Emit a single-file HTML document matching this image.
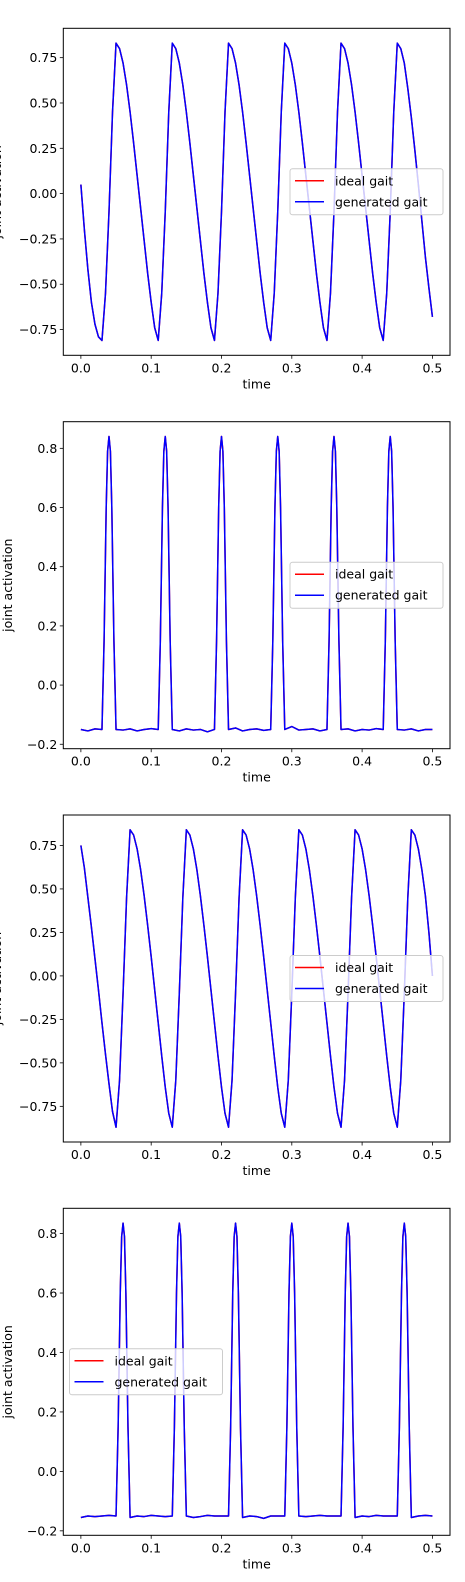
<!DOCTYPE html>
<html><head><meta charset="utf-8"><style>
html,body{margin:0;padding:0;background:#fff;}
svg{display:block;font-family:"DejaVu Sans","Liberation Sans",sans-serif;}
</style></head><body>
<svg id="fig" width="465" height="1582" viewBox="0 0 465 1582" xmlns="http://www.w3.org/2000/svg"></svg>
<script>
// ---------- data ----------
const t1 = [0,0.005,0.01,0.015,0.02,0.025,0.03,0.035,0.04,0.045,0.05,0.055,0.06,0.065,0.07,0.075,0.08,0.085,0.09,0.095,0.1,0.105,0.11,0.115,0.12,0.125,0.13,0.135,0.14,0.145,0.15,0.155,0.16,0.165,0.17,0.175,0.18,0.185,0.19,0.195,0.2,0.205,0.21,0.215,0.22,0.225,0.23,0.235,0.24,0.245,0.25,0.255,0.26,0.265,0.27,0.275,0.28,0.285,0.29,0.295,0.3,0.305,0.31,0.315,0.32,0.325,0.33,0.335,0.34,0.345,0.35,0.355,0.36,0.365,0.37,0.375,0.38,0.385,0.39,0.395,0.4,0.405,0.41,0.415,0.42,0.425,0.43,0.435,0.44,0.445,0.45,0.455,0.46,0.465,0.47,0.475,0.48,0.485,0.49,0.495,0.5];
const joint1 = [0.05,-0.2,-0.42,-0.6,-0.72,-0.79,-0.81,
 -0.55,-0.1,0.45,0.83, 0.80,0.72,0.60,0.45,0.28,0.10,-0.08,-0.26,-0.44,-0.60,-0.74,-0.81,
 -0.55,-0.1,0.45,0.83, 0.80,0.72,0.60,0.45,0.28,0.10,-0.08,-0.26,-0.44,-0.60,-0.74,-0.81,
 -0.55,-0.1,0.45,0.83, 0.80,0.72,0.60,0.45,0.28,0.10,-0.08,-0.26,-0.44,-0.60,-0.74,-0.81,
 -0.55,-0.1,0.45,0.83, 0.80,0.72,0.60,0.45,0.28,0.10,-0.08,-0.26,-0.44,-0.60,-0.74,-0.81,
 -0.55,-0.1,0.45,0.83, 0.80,0.72,0.60,0.45,0.28,0.10,-0.08,-0.26,-0.44,-0.60,-0.74,-0.81,
 -0.55,-0.1,0.45,0.83, 0.80,0.72,0.58,0.42,0.24,0.05,-0.15,-0.35,-0.52,-0.68];
const joint3 = [0.75,0.62,0.45,0.28,0.10,-0.08,-0.27,-0.45,-0.62,-0.78,-0.87,
 -0.6,-0.1,0.45,0.84, 0.81,0.73,0.61,0.46,0.29,0.11,-0.08,-0.27,-0.46,-0.64,-0.79,-0.87,
 -0.6,-0.1,0.45,0.84, 0.81,0.73,0.61,0.46,0.29,0.11,-0.08,-0.27,-0.46,-0.64,-0.79,-0.87,
 -0.6,-0.1,0.45,0.84, 0.81,0.73,0.61,0.46,0.29,0.11,-0.08,-0.27,-0.46,-0.64,-0.79,-0.87,
 -0.6,-0.1,0.45,0.84, 0.81,0.73,0.61,0.46,0.29,0.11,-0.08,-0.27,-0.46,-0.64,-0.79,-0.87,
 -0.6,-0.1,0.45,0.84, 0.81,0.73,0.61,0.46,0.29,0.11,-0.08,-0.27,-0.46,-0.64,-0.79,-0.87,
 -0.6,-0.1,0.45,0.84, 0.81,0.73,0.61,0.46,0.25,0.0];
// pulse plots: times and values
const t2 = [0,0.01,0.02,0.03,0.033,0.036,0.038,0.04,0.042,0.044,0.047,0.05,0.06,0.07,0.08,0.09,0.1,0.11,0.113,0.116,0.118,0.12,0.122,0.124,0.127,0.13,0.14,0.15,0.16,0.17,0.18,0.19,0.193,0.196,0.198,0.2,0.202,0.204,0.207,0.21,0.22,0.23,0.24,0.25,0.26,0.27,0.273,0.276,0.278,0.28,0.282,0.284,0.287,0.29,0.3,0.31,0.32,0.33,0.34,0.35,0.353,0.356,0.358,0.36,0.362,0.364,0.367,0.37,0.38,0.39,0.4,0.41,0.42,0.43,0.433,0.436,0.438,0.44,0.442,0.444,0.447,0.45,0.46,0.47,0.48,0.49,0.5];
const joint2 = [-0.15,-0.155,-0.148,-0.15,0.15,0.6,0.79,0.84,0.79,0.6,0.15,-0.15,-0.152,-0.148,-0.155,-0.15,-0.147,-0.15,0.15,0.6,0.79,0.84,0.79,0.6,0.15,-0.15,-0.155,-0.148,-0.152,-0.15,-0.158,-0.15,0.15,0.6,0.79,0.84,0.79,0.6,0.15,-0.15,-0.145,-0.155,-0.15,-0.148,-0.153,-0.15,0.15,0.6,0.79,0.84,0.79,0.6,0.15,-0.15,-0.14,-0.152,-0.15,-0.148,-0.155,-0.15,0.15,0.6,0.79,0.84,0.79,0.6,0.15,-0.15,-0.148,-0.155,-0.15,-0.152,-0.147,-0.15,0.15,0.6,0.79,0.84,0.79,0.6,0.15,-0.15,-0.152,-0.148,-0.155,-0.15,-0.15];
const t4 = [0,0.01,0.02,0.03,0.04,0.05,0.053,0.056,0.058,0.06,0.062,0.064,0.067,0.07,0.08,0.09,0.1,0.11,0.12,0.13,0.133,0.136,0.138,0.14,0.142,0.144,0.147,0.15,0.16,0.17,0.18,0.19,0.2,0.21,0.213,0.216,0.218,0.22,0.222,0.224,0.227,0.23,0.24,0.25,0.26,0.27,0.28,0.29,0.293,0.296,0.298,0.3,0.302,0.304,0.307,0.31,0.32,0.33,0.34,0.35,0.36,0.37,0.373,0.376,0.378,0.38,0.382,0.384,0.387,0.39,0.4,0.41,0.42,0.43,0.44,0.45,0.453,0.456,0.458,0.46,0.462,0.464,0.467,0.47,0.48,0.49,0.5];
const joint4 = [-0.155,-0.15,-0.152,-0.15,-0.148,-0.15,0.15,0.6,0.79,0.835,0.79,0.6,0.15,-0.155,-0.15,-0.152,-0.148,-0.15,-0.152,-0.15,0.15,0.6,0.79,0.835,0.79,0.6,0.15,-0.15,-0.155,-0.152,-0.148,-0.15,-0.15,-0.15,0.15,0.6,0.79,0.835,0.79,0.6,0.15,-0.155,-0.15,-0.152,-0.158,-0.15,-0.15,-0.15,0.15,0.6,0.79,0.835,0.79,0.6,0.15,-0.15,-0.152,-0.15,-0.148,-0.15,-0.15,-0.15,0.15,0.6,0.79,0.835,0.79,0.6,0.15,-0.155,-0.15,-0.152,-0.148,-0.15,-0.15,-0.15,0.15,0.6,0.79,0.835,0.79,0.6,0.15,-0.155,-0.15,-0.148,-0.15];
const xTicks = [0.0,0.1,0.2,0.3,0.4,0.5];
const yTicksA = [-0.75,-0.5,-0.25,0,0.25,0.5,0.75];
const yTicksB = [-0.2,0,0.2,0.4,0.6,0.8];

// ---------- drawing ----------
const NS="http://www.w3.org/2000/svg";
const fig=document.getElementById('fig');
function mk(tag,attrs,parent){const e=document.createElementNS(NS,tag);for(const k in attrs)e.setAttribute(k,attrs[k]);(parent||fig).appendChild(e);return e;}

const panels=[
 {top:28.3,t:t1,ideal:joint1,gen:joint1,ymin:-0.892,ymax:0.912,ticks:yTicksA,dec:2,legLeft:false,ylx:-3},
 {top:421.7,t:t2,ideal:joint2,gen:joint2,ymin:-0.215,ymax:0.89,ticks:yTicksB,dec:1,legLeft:false,ylx:8},
 {top:815,t:t1,ideal:joint3,gen:joint3,ymin:-0.955,ymax:0.925,ticks:yTicksA,dec:2,legLeft:false,ylx:-3},
 {top:1208.3,t:t4,ideal:joint4,gen:joint4,ymin:-0.215,ymax:0.885,ticks:yTicksB,dec:1,legLeft:true,ylx:8}
];
const L=63.3,R=450,H=327;
panels.forEach((p,i)=>{
  const g=mk('g',{});
  
  
  const xs=v=>L+(v+0.025)/0.55*(R-L);
  const ys=v=>p.top+H-(v-p.ymin)/(p.ymax-p.ymin)*H;
  const fmt=v=>(v<0?'\u2212':'')+Math.abs(v).toFixed(p.dec);
  // lines
  ['ideal','gen'].forEach(k=>{
    const arr=p[k];
    const d=arr.map((v,j)=>(j?'L':'M')+xs(p.t[j]).toFixed(2)+' '+ys(v).toFixed(2)).join(' ');
    const path=mk('path',{d:d,fill:'none',stroke:k==='ideal'?'#ff0000':'#0000ff','stroke-width':1.5,'stroke-linejoin':'round'},g);
    
    
  });
  const frame=mk('rect',{x:L,y:p.top,width:R-L,height:H,fill:'none',stroke:'#000','stroke-width':1},g);
  
  
  xTicks.forEach(v=>{
    const x=xs(v);
    mk('line',{x1:x,x2:x,y1:p.top+H,y2:p.top+H+3.5,stroke:'#000','stroke-width':0.8},g);
    const tx=mk('text',{x:x,y:p.top+H+17,'font-size':12.5,'text-anchor':'middle',fill:'#000'},g);
    tx.textContent=v.toFixed(1);
    
    
  });
  p.ticks.forEach(v=>{
    const y=ys(v);
    mk('line',{x1:L-3.5,x2:L,y1:y,y2:y,stroke:'#000','stroke-width':0.8},g);
    const tx=mk('text',{x:L-6,y:y+4.5,'font-size':12.5,'text-anchor':'end',fill:'#000'},g);
    tx.textContent=fmt(v);
    
    
  });
  const xl=mk('text',{x:(L+R)/2,y:p.top+H+33,'font-size':12.5,'text-anchor':'middle',fill:'#000'},g);
  xl.textContent='time';
  
  
  const yc=p.top+H/2;
  const yl=mk('text',{x:p.ylx,y:yc,'font-size':12.5,'text-anchor':'middle',fill:'#000',transform:'rotate(-90 '+p.ylx+' '+yc+')',dy:'4'},g);
  yl.textContent='joint activation';
  
  
  // legend
  const lx=p.legLeft?69.5:290, ly=p.top+140.5;
  const lg=mk('g',{},g);
  
  
  mk('rect',{x:lx,y:ly,width:153,height:46,rx:2.5,fill:'#fff','fill-opacity':0.8,stroke:'#ccc','stroke-width':1},lg);
  [['ideal gait','#ff0000'],['generated gait','#0000ff']].forEach((e,j)=>{
    const yy=ly+12+j*21;
    const en=mk('g',{},lg);
    
    
    mk('line',{x1:lx+5,x2:lx+34,y1:yy,y2:yy,stroke:e[1],'stroke-width':1.5},en);
    const tx=mk('text',{x:lx+45,y:yy+4.5,'font-size':12.5,fill:'#000'},en);
    tx.textContent=e[0];
  });
});
</script>
</body></html>
